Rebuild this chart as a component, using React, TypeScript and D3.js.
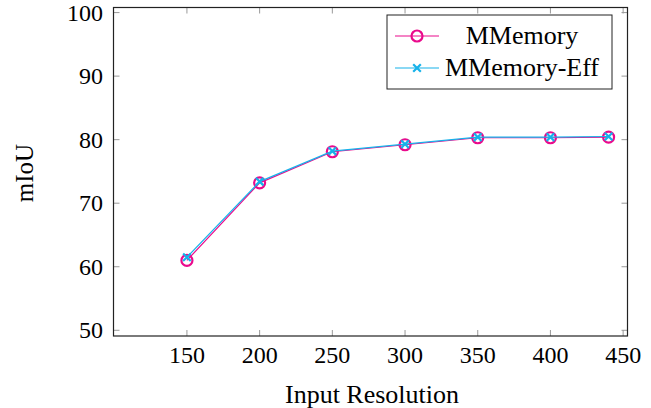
import React, { useRef, useEffect } from "react";
import * as d3 from "d3";

const resolutions = [150, 200, 250, 300, 350, 400, 440];
const mmemory = [61.0, 73.2, 78.1, 79.2, 80.3, 80.3, 80.4];
const mmemoryEff = [61.5, 73.4, 78.2, 79.3, 80.4, 80.4, 80.5];
const xTicks = [150, 200, 250, 300, 350, 400, 450];
const yTicks = [50, 60, 70, 80, 90, 100];
const seriesNames = ["MMemory", "MMemory-Eff"];

const MAGENTA = "#ea0a8c";
const CYAN = "#16b2ea";
const FONT = "Liberation Serif, Times New Roman, DejaVu Serif, serif";

function App() {
  const svgRef = useRef<SVGSVGElement>(null);

  useEffect(() => {
    const svg = d3.select(svgRef.current);
    svg.selectAll("*").remove();

    const left = 113.5;
    const right = 627.5;
    const top = 7.5;
    const bottom = 336;

    const x = d3.scaleLinear().domain([99.5, 453]).range([left, right]);
    const y = d3.scaleLinear().domain([49.1, 100.8]).range([bottom, top]);

    // tick marks (inside, mirrored)
    const ticks = svg.append("g").attr("stroke", "#999").attr("stroke-width", 1);
    xTicks.forEach((t) => {
      ticks.append("line").attr("x1", x(t)).attr("x2", x(t)).attr("y1", bottom).attr("y2", bottom - 6);
      ticks.append("line").attr("x1", x(t)).attr("x2", x(t)).attr("y1", top).attr("y2", top + 6);
    });
    yTicks.forEach((t) => {
      ticks.append("line").attr("x1", left).attr("x2", left + 6).attr("y1", y(t)).attr("y2", y(t));
      ticks.append("line").attr("x1", right).attr("x2", right - 6).attr("y1", y(t)).attr("y2", y(t));
    });

    // frame
    svg
      .append("rect")
      .attr("x", left)
      .attr("y", top)
      .attr("width", right - left)
      .attr("height", bottom - top)
      .attr("fill", "none")
      .attr("stroke", "#222")
      .attr("stroke-width", 1.2);

    // tick labels
    svg
      .append("g")
      .selectAll("text")
      .data(xTicks)
      .join("text")
      .attr("x", (d) => x(d))
      .attr("y", 363)
      .attr("text-anchor", "middle")
      .style("font-family", FONT)
      .attr("font-size", 24)
      .text((d) => d);

    svg
      .append("g")
      .selectAll("text")
      .data(yTicks)
      .join("text")
      .attr("x", 103)
      .attr("y", (d) => y(d) + 8)
      .attr("text-anchor", "end")
      .style("font-family", FONT)
      .attr("font-size", 24)
      .text((d) => d);

    // axis labels
    svg
      .append("text")
      .attr("x", 372)
      .attr("y", 403)
      .attr("text-anchor", "middle")
      .style("font-family", FONT)
      .attr("font-size", 26)
      .text("Input Resolution");

    svg
      .append("text")
      .attr("transform", `translate(33,173) rotate(-90)`)
      .attr("text-anchor", "middle")
      .style("font-family", FONT)
      .attr("font-size", 25)
      .text("mIoU");

    const line = d3
      .line<number>()
      .x((_, i) => x(resolutions[i]))
      .y((d) => y(d));

    // MMemory
    svg.append("path").datum(mmemory).attr("d", line).attr("fill", "none").attr("stroke", MAGENTA).attr("stroke-width", 1.2);
    svg
      .append("g")
      .selectAll("circle")
      .data(mmemory)
      .join("circle")
      .attr("cx", (_, i) => x(resolutions[i]))
      .attr("cy", (d) => y(d))
      .attr("r", 5.5)
      .attr("fill", "none")
      .attr("stroke", MAGENTA)
      .attr("stroke-width", 2.2);

    // MMemory-Eff
    svg.append("path").datum(mmemoryEff).attr("d", line).attr("fill", "none").attr("stroke", CYAN).attr("stroke-width", 1.2);
    const cross = (g: any, cx: number, cy: number, s: number) => {
      g.append("path")
        .attr("d", `M${cx - s},${cy - s}L${cx + s},${cy + s}M${cx - s},${cy + s}L${cx + s},${cy - s}`)
        .attr("stroke", CYAN)
        .attr("stroke-width", 2.2)
        .attr("fill", "none");
    };
    const crosses = svg.append("g");
    mmemoryEff.forEach((d, i) => cross(crosses, x(resolutions[i]), y(d), 3.8));

    // legend
    const lg = svg.append("g");
    lg.append("rect")
      .attr("x", 387)
      .attr("y", 15)
      .attr("width", 225)
      .attr("height", 74)
      .attr("fill", "white")
      .attr("stroke", "#222")
      .attr("stroke-width", 1);
    const rows = [36, 68];
    [MAGENTA, CYAN].forEach((c, i) => {
      lg.append("line").attr("x1", 395).attr("x2", 439).attr("y1", rows[i]).attr("y2", rows[i]).attr("stroke", c).attr("stroke-width", 1.2);
      lg.append("text")
        .attr("x", 522)
        .attr("y", rows[i] + 8)
        .attr("text-anchor", "middle")
        .style("font-family", FONT)
        .attr("font-size", 26)
        .text(seriesNames[i]);
    });
    lg.append("circle").attr("cx", 417).attr("cy", rows[0]).attr("r", 5.5).attr("fill", "none").attr("stroke", MAGENTA).attr("stroke-width", 2.2);
    cross(lg, 417, rows[1], 3.8);
  }, []);

  return <svg ref={svgRef} width={651} height={408} style={{ position: "absolute", left: 0, top: 0 }}></svg>;
}

export default App;
